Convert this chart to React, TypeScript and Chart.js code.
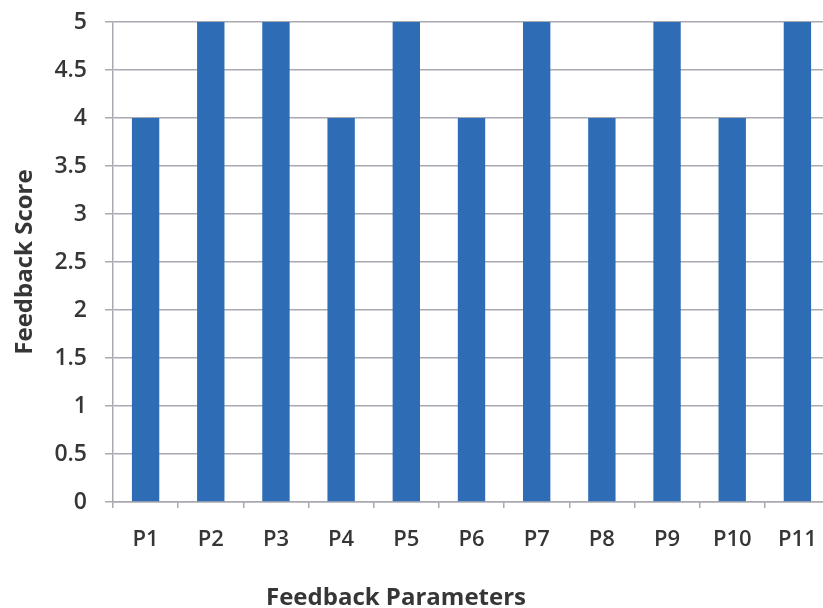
import React, { useEffect, useRef } from "react";
import { Chart, registerables } from "chart.js";

Chart.register(...registerables);

const categories = ["P1", "P2", "P3", "P4", "P5", "P6", "P7", "P8", "P9", "P10", "P11"];
const scores = [4, 5, 5, 4, 5, 4, 5, 4, 5, 4, 5];
const yTitle = "Feedback Score";
const xTitle = "Feedback Parameters";

const FONT = "'Open Sans', 'DejaVu Sans', sans-serif";
const TEXT = "#363636";

export default function App() {
  const ref = useRef<HTMLCanvasElement | null>(null);

  useEffect(() => {
    if (!ref.current) return;
    const chart = new Chart(ref.current, {
      type: "bar",
      data: {
        labels: categories,
        datasets: [
          {
            data: scores,
            backgroundColor: "#2e6db6",
            borderWidth: 0,
            categoryPercentage: 1,
            barPercentage: 0.42,
          },
        ],
      },
      options: {
        responsive: false,
        animation: false,
        layout: { padding: { left: 0, top: 22, right: 10, bottom: 0 } },
        plugins: { legend: { display: false }, tooltip: { enabled: false } },
        scales: {
          x: {
            grid: {
              display: true,
              drawOnChartArea: false,
              drawTicks: true,
              tickLength: 6,
              color: "#a9a9b2",
              lineWidth: 1.5,
            },
            border: { display: true, color: "#a9a9b2", width: 1.5 },
            ticks: {
              color: TEXT,
              padding: 19,
              font: { family: FONT, size: 22, weight: "600" },
              maxRotation: 0,
              autoSkip: false,
            },
            afterFit: (s: any) => {
              s.height = 106;
              s.paddingLeft = 0;
              s.paddingRight = 0;
            },
          },
          y: {
            min: 0,
            max: 5,
            ticks: {
              stepSize: 0.5,
              color: TEXT,
              padding: 18,
              font: { family: FONT, size: 23, weight: "600" },
              callback: (v: any) => String(Number(v)),
            },
            grid: {
              color: "#a9a9b2",
              lineWidth: 1.5,
              tickLength: 8,
            },
            border: { display: true, color: "#a9a9b2", width: 1.5 },
            title: {
              display: true,
              text: yTitle,
              color: TEXT,
              padding: { top: 11, bottom: 0 },
              font: { family: FONT, size: 24, weight: "bold" },
            },
            afterFit: (s: any) => {
              s.width = 113;
              s.paddingTop = 0;
              s.paddingBottom = 0;
            },
          },
        },
      },
    });
    return () => chart.destroy();
  }, []);

  return (
    <div
      style={{
        position: "absolute",
        left: 0,
        top: 0,
        width: 823,
        height: 608,
        overflow: "hidden",
        background: "#ffffff",
      }}
    >
      <canvas ref={ref} width={840} height={608} style={{ display: "block" }} />
      <div
        style={{
          position: "absolute",
          left: 196,
          width: 400,
          top: 581,
          lineHeight: "30px",
          textAlign: "center",
          fontFamily: FONT,
          fontWeight: "bold",
          fontSize: 24,
          color: TEXT,
        }}
      >
        {xTitle}
      </div>
    </div>
  );
}
